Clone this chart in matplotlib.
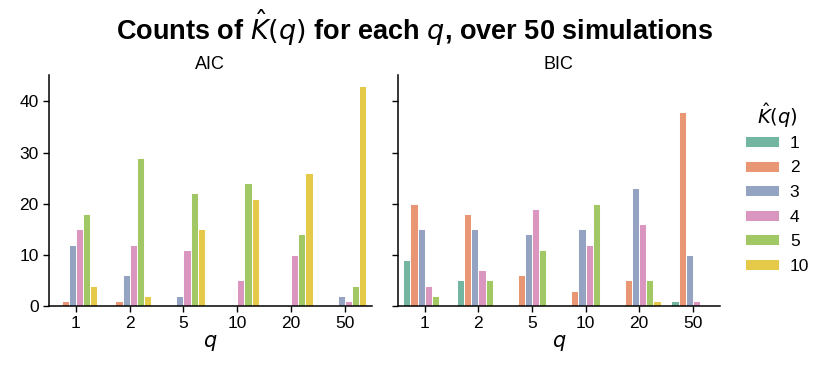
import numpy as np
import matplotlib.pyplot as plt
import seaborn as sns

plt.rcParams['font.family'] = ['Liberation Sans', 'DejaVu Sans']
plt.rcParams['mathtext.fontset'] = 'dejavusans'

# data: counts of K_hat for each q
q_labels = ['1', '2', '5', '10', '20', '50']
k_levels = ['1', '2', '3', '4', '5', '10']

# rows = q, cols = K_hat level
aic_counts = np.array([
    [0, 1, 12, 15, 18, 4],
    [0, 1, 6, 12, 29, 2],
    [0, 0, 2, 11, 22, 15],
    [0, 0, 0, 5, 24, 21],
    [0, 0, 0, 10, 14, 26],
    [0, 0, 2, 1, 4, 43],
])
bic_counts = np.array([
    [9, 20, 15, 4, 2, 0],
    [5, 18, 15, 7, 5, 0],
    [0, 6, 14, 19, 11, 0],
    [0, 3, 15, 12, 20, 0],
    [0, 5, 23, 16, 5, 1],
    [1, 38, 10, 1, 0, 0],
])

colors = sns.color_palette('Set2', 6, desat=0.75)

fig = plt.figure(figsize=(8.3, 3.75), dpi=100)
ax1 = fig.add_axes([0.059, 0.184, 0.389, 0.616])
ax2 = fig.add_axes([0.4795, 0.184, 0.3875, 0.616], sharey=ax1)

x = np.arange(len(q_labels))
w = 0.8 / len(k_levels)
for ax, counts, name in [(ax1, aic_counts, 'AIC'), (ax2, bic_counts, 'BIC')]:
    for j, k in enumerate(k_levels):
        ax.bar(x + (j - 2.5) * w, counts[:, j], width=w, color=colors[j],
               edgecolor='white', linewidth=0.7, label=k)
    ax.set_xticks(x)
    ax.set_xticklabels(q_labels)
    ax.set_xlim(-0.5, len(q_labels) - 0.5)
    ax.set_title(name, fontsize=13, pad=4)
    ax.set_xlabel('$q$', fontsize=15, labelpad=1)
    ax.spines['top'].set_visible(False)
    ax.spines['right'].set_visible(False)
    ax.tick_params(labelsize=12.5, length=4, width=1)
    for s in ['left', 'bottom']:
        ax.spines[s].set_linewidth(1.1)

ax1.set_ylim(0, 45.15)
ax1.set_yticks([0, 10, 20, 30, 40])
plt.setp(ax2.get_yticklabels(), visible=False)

handles, labels = ax1.get_legend_handles_labels()
leg = fig.legend(handles, labels, title='$\\hat{K}(q)$', loc='center left',
                 bbox_to_anchor=(0.879, 0.50), frameon=False, fontsize=12.5,
                 title_fontsize=14, handlelength=1.95, handleheight=0.6,
                 labelspacing=0.55, handletextpad=0.62)
leg._legend_box.sep = 4

fig.suptitle('Counts of $\\hat{K}(q)$ for each $q$, over 50 simulations',
             fontsize=19.5, fontweight='bold', y=0.98)

plt.savefig('out.png', dpi=100)
